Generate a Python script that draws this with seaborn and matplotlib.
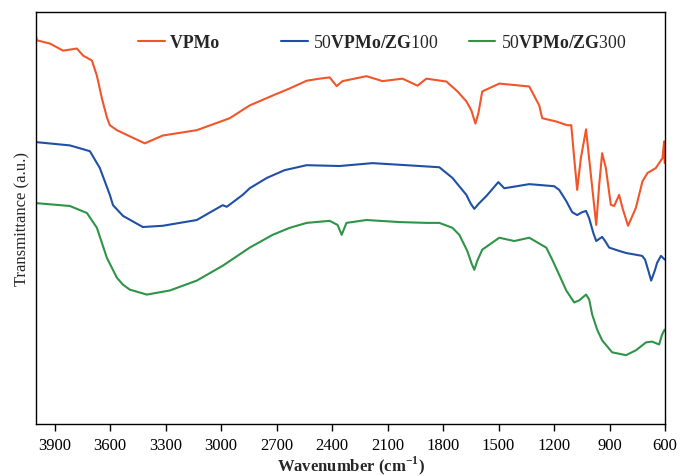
import numpy as np
import pandas as pd
import matplotlib
matplotlib.use("Agg")
import matplotlib.pyplot as plt
import seaborn as sns

# FTIR spectra (wavenumber cm-1, transmittance a.u.)
vpmo_wn = [4000, 3995, 3924, 3854, 3779, 3746, 3698, 3671, 3644, 3617, 3601, 3563,
           3493, 3412, 3315, 3131, 2953, 2845, 2721, 2630, 2537, 2467, 2413, 2375,
           2343, 2214, 2127, 2019, 1938, 1890, 1782, 1722, 1674, 1647, 1625, 1609,
           1588, 1496, 1334, 1280, 1264, 1188, 1129, 1107, 1091, 1075, 1055, 1027,
           1001, 972, 956, 940, 920, 893, 875, 848, 830, 800, 758, 722, 695, 650,
           614, 605, 602]
vpmo_t = [94.0, 93.1, 92.3, 90.6, 91.1, 89.4, 88.2, 84.5, 79.0, 74.4, 72.5, 71.3,
          69.8, 68.1, 70.0, 71.3, 74.2, 77.3, 79.7, 81.4, 83.3, 83.8, 84.1, 82.0,
          83.2, 84.4, 83.2, 83.8, 82.1, 83.8, 83.1, 80.7, 78.3, 76.1, 72.9, 75.4,
          80.7, 82.6, 81.9, 77.3, 74.2, 73.4, 72.5, 72.5, 64.5, 56.8, 64.5, 71.5,
          60.5, 48.3, 58.0, 65.7, 62.1, 53.2, 52.9, 55.6, 52.4, 48.1, 52.4, 58.9,
          60.9, 62.1, 64.5, 68.6, 63.3]

zg100_wn = [4000, 3817, 3709, 3655, 3601, 3584, 3530, 3423, 3315, 3131, 2991, 2969,
            2883, 2845, 2753, 2656, 2537, 2359, 2181, 1998, 1820, 1749, 1674, 1652,
            1631, 1604, 1566, 1501, 1469, 1334, 1199, 1172, 1134, 1102, 1075, 1048,
            1027, 1010, 988, 972, 940, 924, 902, 848, 811, 724, 708, 687, 675, 654,
            643, 622, 602]
zg100_t = [68.4, 67.6, 66.2, 62.1, 55.6, 53.1, 50.5, 47.8, 48.1, 49.5, 53.1, 52.7,
           55.6, 57.2, 59.7, 61.6, 62.8, 62.6, 63.3, 62.8, 62.3, 59.7, 55.6, 53.6,
           52.2, 53.6, 55.3, 58.7, 57.2, 58.2, 57.7, 56.8, 54.1, 51.4, 50.7, 51.4,
           51.7, 49.9, 46.4, 44.4, 45.4, 44.4, 42.8, 42.0, 41.5, 40.8, 39.9, 36.7,
           34.8, 37.4, 39.1, 40.8, 39.9]

zg300_wn = [4000, 3817, 3725, 3671, 3617, 3563, 3530, 3493, 3401, 3277, 3131, 2991,
            2845, 2721, 2629, 2537, 2413, 2370, 2348, 2322, 2214, 2036, 1890, 1820,
            1749, 1712, 1669, 1647, 1631, 1615, 1588, 1496, 1415, 1334, 1242, 1210,
            1172, 1134, 1091, 1064, 1027, 1010, 994, 967, 940, 886, 811, 757, 703,
            670, 632, 616, 602]
zg300_t = [53.6, 52.9, 51.2, 47.6, 40.3, 35.5, 33.8, 32.6, 31.4, 32.4, 34.8, 38.4,
           42.8, 45.9, 47.6, 48.8, 49.3, 48.3, 45.9, 48.8, 49.5, 49.0, 48.8, 48.8,
           47.6, 45.9, 42.0, 39.1, 37.4, 39.6, 42.3, 45.2, 44.4, 45.2, 42.8, 39.9,
           36.2, 32.4, 29.5, 30.0, 31.4, 30.2, 26.6, 22.9, 20.3, 17.4, 16.7, 17.9,
           19.8, 20.0, 19.3, 21.7, 22.9]

# trailing spaces after VPMo widen its legend column like the original
labels = ["VPMo       ", r"50$\mathbf{VPMo/ZG}$100", r"50$\mathbf{VPMo/ZG}$300"]
colors = ["#F2552A", "#1F50A6", "#2F9447"]
xticks = list(range(3900, 599, -300))

sns.set_theme(style="ticks")
plt.rcParams["font.family"] = ["Liberation Serif", "DejaVu Serif"]
plt.rcParams["mathtext.fontset"] = "custom"
plt.rcParams["mathtext.rm"] = "Liberation Serif"
plt.rcParams["mathtext.bf"] = "Liberation Serif:bold"

fig = plt.figure(figsize=(6.8, 4.77), dpi=100)
ax = fig.add_axes([0.053, 0.109, 0.925, 0.864])

series = [(vpmo_wn, vpmo_t), (zg100_wn, zg100_t), (zg300_wn, zg300_t)]
for (wn, t), lab, col in zip(series, labels, colors):
    df = pd.DataFrame({"wn": wn, "t": t})
    sns.lineplot(data=df, x="wn", y="t", color=col, label=lab, ax=ax,
                 sort=False, linewidth=1.5)

ax.set_xlim(4000, 600)
ax.set_ylim(0, 100)
ax.set_xticks(xticks)
ax.set_yticks([])
ax.tick_params(axis="x", direction="out", length=5, width=1, labelsize=12,
               colors="black", pad=4)
for s in ax.spines.values():
    s.set_visible(True)
    s.set_color("black")
    s.set_linewidth(1.0)

ax.set_xlabel(r"Wavenumber (cm$^{\mathbf{-1}}$)", fontsize=12, fontweight="bold",
              labelpad=1)
ax.set_ylabel("Transmittance (a.u.)", fontsize=12, labelpad=4)

leg = ax.legend(loc="upper center", bbox_to_anchor=(0.55, 0.985), ncol=3,
                frameon=False, fontsize=12.8, handlelength=1.5, handletextpad=0.3,
                columnspacing=1.7)
leg.get_texts()[0].set_fontweight("bold")

fig.savefig("out.png", dpi=100)
